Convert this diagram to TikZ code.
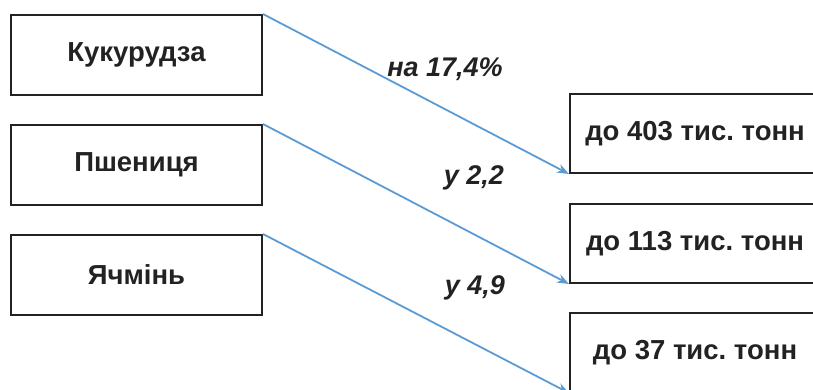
\documentclass[tikz,border=0pt]{standalone}
\usepackage{fontspec}
\setmainfont{Liberation Sans}
\frenchspacing
\definecolor{ink}{HTML}{222222}
\definecolor{arrowblue}{HTML}{5B9BD5}
\tikzset{
  box/.style={draw=ink,line width=2pt,minimum width=251pt,minimum height=80pt,
    inner sep=0pt,font=\fontsize{27.5}{31}\selectfont\bfseries,text=ink},
  resbox/.style={box,minimum width=250pt,minimum height=79pt},
  growth/.style={font=\fontsize{27}{31}\selectfont\bfseries\itshape,text=ink},
  arr/.style={draw=arrowblue,line width=1.8pt,-{Stealth[length=12pt,width=9pt]}}
}
\usetikzlibrary{arrows.meta}
\begin{document}
\begin{tikzpicture}[x=1pt,y=-1pt]
\useasboundingbox (0,0) rectangle (813,390);
% crops
\node[box] (corn) at(136.5,55) {Кукурудза};
\node[box] (wheat) at(136.5,165) {Пшениця};
\node[box] (barley) at(136.5,275) {Ячмінь};
% results
\node[resbox] (r403) at(695,133.5) {до 403 тис. тонн};
\node[resbox] (r113) at(695,243.5) {до 113 тис. тонн};
\node[resbox] (r37) at(695,352.5) {до 37 тис. тонн};
\draw[arr] (corn.north east) -- (r403.south west);
\draw[arr] (wheat.north east) -- (r113.south west);
\draw[arr] (barley.north east) -- (r37.south west);
\node[growth] (g1) at(445,69) {на 17,4\%};
\node[growth] (g2) at(474,178) {у 2,2};
\node[growth] (g3) at(475,288) {у 4,9};
\end{tikzpicture}
\end{document}
